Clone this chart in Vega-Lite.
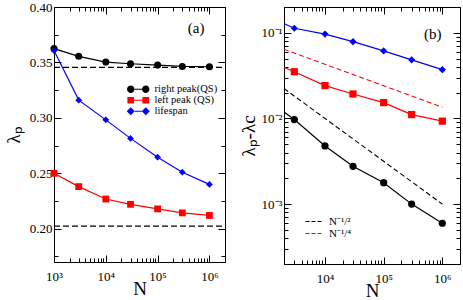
{
  "$schema": "https://vega.github.io/schema/vega-lite/v6.json",
  "padding": {"left": 3, "top": 0, "right": 0, "bottom": 0},
  "background": "white",
  "config": {
    "font": "Liberation Serif",
    "view": {"stroke": "#000", "strokeWidth": 1},
    "axis": {"grid": false, "domain": false, "tickColor": "#000", "labelColor": "#000", "titleColor": "#000", "labelFont": "Liberation Serif", "titleFont": "Liberation Serif", "labelFontSize": 13, "titleFontWeight": "normal", "tickWidth": 1, "labelFlush": false, "labelOverlap": false},
    "legend": {"labelFont": "Liberation Serif", "labelColor": "#000", "padding": 0}
  },
  "datasets": {
    "a": [
      {"N": 1000, "lam": 0.3625, "series": "right peak(QS)"},
      {"N": 3000, "lam": 0.3555, "series": "right peak(QS)"},
      {"N": 10000, "lam": 0.3503, "series": "right peak(QS)"},
      {"N": 30000, "lam": 0.3488, "series": "right peak(QS)"},
      {"N": 100000, "lam": 0.3476, "series": "right peak(QS)"},
      {"N": 300000, "lam": 0.3464, "series": "right peak(QS)"},
      {"N": 1000000, "lam": 0.3461, "series": "right peak(QS)"},
      {"N": 1000, "lam": 0.2500, "series": "left peak (QS)"},
      {"N": 3000, "lam": 0.2380, "series": "left peak (QS)"},
      {"N": 10000, "lam": 0.2268, "series": "left peak (QS)"},
      {"N": 30000, "lam": 0.2220, "series": "left peak (QS)"},
      {"N": 100000, "lam": 0.2179, "series": "left peak (QS)"},
      {"N": 300000, "lam": 0.2143, "series": "left peak (QS)"},
      {"N": 1000000, "lam": 0.2120, "series": "left peak (QS)"},
      {"N": 1000, "lam": 0.3607, "series": "lifespan"},
      {"N": 3000, "lam": 0.3160, "series": "lifespan"},
      {"N": 10000, "lam": 0.2982, "series": "lifespan"},
      {"N": 30000, "lam": 0.2815, "series": "lifespan"},
      {"N": 100000, "lam": 0.2645, "series": "lifespan"},
      {"N": 300000, "lam": 0.2510, "series": "lifespan"},
      {"N": 1000000, "lam": 0.2400, "series": "lifespan"}
    ],
    "aref": [
      {"N": 1000, "lam": 0.3455, "g": "upper"},
      {"N": 2000000, "lam": 0.3455, "g": "upper"},
      {"N": 1000, "lam": 0.2023, "g": "lower"},
      {"N": 2000000, "lam": 0.2023, "g": "lower"}
    ],
    "b": [
      {"N": 1000, "d": 0.0170, "series": "right peak(QS)"},
      {"N": 3000, "d": 0.0097, "series": "right peak(QS)"},
      {"N": 10000, "d": 0.00478, "series": "right peak(QS)"},
      {"N": 30000, "d": 0.00276, "series": "right peak(QS)"},
      {"N": 100000, "d": 0.00178, "series": "right peak(QS)"},
      {"N": 300000, "d": 0.0010, "series": "right peak(QS)"},
      {"N": 1000000, "d": 0.000598, "series": "right peak(QS)"},
      {"N": 1000, "d": 0.048, "series": "left peak (QS)"},
      {"N": 3000, "d": 0.0351, "series": "left peak (QS)"},
      {"N": 10000, "d": 0.0242, "series": "left peak (QS)"},
      {"N": 30000, "d": 0.0193, "series": "left peak (QS)"},
      {"N": 100000, "d": 0.0153, "series": "left peak (QS)"},
      {"N": 300000, "d": 0.0111, "series": "left peak (QS)"},
      {"N": 1000000, "d": 0.0093, "series": "left peak (QS)"},
      {"N": 1000, "d": 0.159, "series": "lifespan"},
      {"N": 3000, "d": 0.113, "series": "lifespan"},
      {"N": 10000, "d": 0.0966, "series": "lifespan"},
      {"N": 30000, "d": 0.0787, "series": "lifespan"},
      {"N": 100000, "d": 0.0614, "series": "lifespan"},
      {"N": 300000, "d": 0.0483, "series": "lifespan"},
      {"N": 1000000, "d": 0.0371, "series": "lifespan"}
    ],
    "bref": [
      {"N": 2000, "d": 0.02236, "law": "N⁻¹/²"},
      {"N": 1000000, "d": 0.001, "law": "N⁻¹/²"},
      {"N": 2000, "d": 0.0643, "law": "N⁻¹/⁴"},
      {"N": 1000000, "d": 0.01355, "law": "N⁻¹/⁴"}
    ]
  },
  "spacing": 10,
  "resolve": {"scale": {"color": "independent", "shape": "independent", "x": "independent", "y": "independent"}, "legend": {"color": "independent", "shape": "independent"}},
  "hconcat": [
    {
      "width": 171,
      "height": 255,
      "title": {"text": "(a)", "anchor": "end", "offset": -35, "dx": -23, "fontSize": 15, "fontWeight": "normal", "font": "Liberation Serif", "color": "#000"},
      "resolve": {"axis": {"x": "independent", "y": "independent"}},
      "layer": [
        {
          "data": {"name": "aref"},
          "mark": {"type": "line", "color": "#000", "strokeWidth": 1.2, "strokeDash": [6, 3]},
          "encoding": {
            "x": {"field": "N", "type": "quantitative", "scale": {"type": "log", "domain": [1000, 2000000], "nice": false},
              "axis": {"orient": "bottom", "values": [1000, 10000, 100000, 1000000], "labelExpr": "datum.value < 5000 ? '10³' : datum.value < 50000 ? '10⁴' : datum.value < 500000 ? '10⁵' : '10⁶'", "tickSize": -7, "labelPadding": 15, "title": "N", "titleFontSize": 19, "titlePadding": -4}},
            "y": {"field": "lam", "type": "quantitative", "scale": {"domain": [0.17, 0.4], "nice": false, "zero": false},
              "axis": {"orient": "left", "values": [0.2, 0.25, 0.3, 0.35, 0.4], "format": ".2f", "tickSize": -7, "labelPadding": 9, "title": "λₚ", "titleFontSize": 19, "titlePadding": 6}},
            "detail": {"field": "g"}
          }
        },
        {
          "data": {"name": "a"},
          "transform": [{"filter": "datum.series == 'right peak(QS)'"}],
          "mark": {"type": "line", "strokeWidth": 1.2, "color": "#000000"},
          "encoding": {
            "x": {"field": "N", "type": "quantitative", "axis": {"orient": "top", "values": [1000, 10000, 100000, 1000000], "labels": false, "tickSize": -7, "title": null}},
            "y": {"field": "lam", "type": "quantitative", "axis": {"orient": "right", "values": [0.2, 0.25, 0.3, 0.35, 0.4], "labels": false, "tickSize": -7, "title": null}}
          }
        },
        {
          "data": {"name": "a"},
          "transform": [{"filter": "datum.series == 'left peak (QS)'"}],
          "mark": {"type": "line", "strokeWidth": 1.2, "color": "#ff0000"},
          "encoding": {
            "x": {"field": "N", "type": "quantitative", "axis": null},
            "y": {"field": "lam", "type": "quantitative", "axis": null}
          }
        },
        {
          "data": {"name": "a"},
          "transform": [{"filter": "datum.series == 'lifespan'"}],
          "mark": {"type": "line", "strokeWidth": 1.2, "color": "#0000ff"},
          "encoding": {
            "x": {"field": "N", "type": "quantitative", "axis": null},
            "y": {"field": "lam", "type": "quantitative", "axis": null}
          }
        },
        {
          "data": {"name": "a"},
          "transform": [{"filter": "datum.series == 'right peak(QS)'"}],
          "mark": {"type": "point", "shape": "circle", "filled": true, "opacity": 1, "size": 50, "color": "#000000"},
          "encoding": {
            "x": {"field": "N", "type": "quantitative", "axis": {"orient": "bottom", "values": [2000, 3000, 4000, 5000, 6000, 7000, 8000, 9000, 20000, 30000, 40000, 50000, 60000, 70000, 80000, 90000, 200000, 300000, 400000, 500000, 600000, 700000, 800000, 900000, 2000000], "labels": false, "tickSize": -4, "title": null}},
            "y": {"field": "lam", "type": "quantitative", "axis": {"orient": "left", "values": [0.175, 0.225, 0.275, 0.325, 0.375], "labels": false, "tickSize": -4, "title": null}}
          }
        },
        {
          "data": {"name": "a"},
          "transform": [{"filter": "datum.series == 'left peak (QS)'"}],
          "mark": {"type": "point", "shape": "square", "filled": true, "opacity": 1, "size": 46, "color": "#ff0000"},
          "encoding": {
            "x": {"field": "N", "type": "quantitative", "axis": null},
            "y": {"field": "lam", "type": "quantitative", "axis": null}
          }
        },
        {
          "data": {"name": "a"},
          "transform": [{"filter": "datum.series == 'lifespan'"}],
          "mark": {"type": "point", "shape": "diamond", "filled": true, "opacity": 1, "size": 46, "color": "#0000ff"},
          "encoding": {
            "x": {"field": "N", "type": "quantitative", "axis": null},
            "y": {"field": "lam", "type": "quantitative", "axis": null}
          }
        },
        {
          "data": {"name": "a"},
          "mark": {"type": "point", "filled": true, "opacity": 0},
          "encoding": {
            "x": {"field": "N", "type": "quantitative", "axis": {"orient": "top", "values": [2000, 3000, 4000, 5000, 6000, 7000, 8000, 9000, 20000, 30000, 40000, 50000, 60000, 70000, 80000, 90000, 200000, 300000, 400000, 500000, 600000, 700000, 800000, 900000, 2000000], "labels": false, "tickSize": -4, "title": null}},
            "y": {"field": "lam", "type": "quantitative", "axis": {"orient": "right", "values": [0.175, 0.225, 0.275, 0.325, 0.375], "labels": false, "tickSize": -4, "title": null}},
            "color": {"field": "series", "type": "nominal", "scale": {"domain": ["right peak(QS)", "left peak (QS)", "lifespan"], "range": ["#000000", "#ff0000", "#0000ff"]},
              "legend": {"orient": "none", "legendX": 79, "legendY": 77, "title": null, "labelFontSize": 10.5, "symbolSize": 81, "labelOffset": 11, "rowPadding": 0, "symbolOpacity": 1, "symbolStrokeWidth": 0}},
            "shape": {"field": "series", "type": "nominal", "scale": {"domain": ["right peak(QS)", "left peak (QS)", "lifespan"], "range": [
              "M-0.85,-0.13 L0.85,-0.13 L0.85,0.13 L-0.85,0.13 Z M-2.49,0 A0.82,0.82 0 1,1 -0.85,0 A0.82,0.82 0 1,1 -2.49,0 Z M0.85,0 A0.82,0.82 0 1,1 2.49,0 A0.82,0.82 0 1,1 0.85,0 Z",
              "M-0.93,-0.13 L0.93,-0.13 L0.93,0.13 L-0.93,0.13 Z M-2.41,-0.74 L-0.93,-0.74 L-0.93,0.74 L-2.41,0.74 Z M0.93,-0.74 L2.41,-0.74 L2.41,0.74 L0.93,0.74 Z",
              "M-0.78,-0.13 L0.78,-0.13 L0.78,0.13 L-0.78,0.13 Z M-2.56,0 L-1.67,-0.89 L-0.78,0 L-1.67,0.89 Z M0.78,0 L1.67,-0.89 L2.56,0 L1.67,0.89 Z"]},
              "legend": {"orient": "none", "legendX": 79, "legendY": 77, "title": null, "labelFontSize": 10.5, "symbolSize": 81, "labelOffset": 11, "rowPadding": 0, "symbolOpacity": 1, "symbolStrokeWidth": 0}}
          }
        }
      ]
    },
    {
      "width": 176,
      "height": 257,
      "title": {"text": "(b)", "anchor": "end", "offset": -35, "dx": -19, "fontSize": 15, "fontWeight": "normal", "font": "Liberation Serif", "color": "#000"},
      "resolve": {"axis": {"x": "independent", "y": "independent"}, "scale": {"color": "independent", "shape": "independent"}},
      "layer": [
        {
          "data": {"name": "bref"},
          "mark": {"type": "line", "strokeWidth": 1.1, "strokeDash": [5, 3], "clip": true},
          "encoding": {
            "x": {"field": "N", "type": "quantitative", "scale": {"type": "log", "domain": [2000, 2000000], "nice": false},
              "axis": {"orient": "bottom", "values": [10000, 100000, 1000000], "labelExpr": "datum.value < 50000 ? '10⁴' : datum.value < 500000 ? '10⁵' : '10⁶'", "tickSize": -7, "labelPadding": 15, "title": "N", "titleFontSize": 19, "titlePadding": -4}},
            "y": {"field": "d", "type": "quantitative", "scale": {"type": "log", "domain": [0.0002, 0.2], "nice": false},
              "axis": {"orient": "left", "values": [0.001, 0.01, 0.1], "labelExpr": "datum.value > 0.05 ? '10⁻¹' : datum.value > 0.005 ? '10⁻²' : '10⁻³'", "tickSize": -7, "labelPadding": 9, "title": "λₚ-λc", "titleFontSize": 19, "titlePadding": 3}},
            "color": {"field": "law", "type": "nominal", "scale": {"domain": ["N⁻¹/²", "N⁻¹/⁴"], "range": ["#000000", "#ff0000"]},
              "legend": {"orient": "none", "legendX": 24, "legendY": 209, "title": null, "labelFontSize": 11, "symbolType": "M-2,0 L2,0", "symbolSize": 64, "symbolDash": [4, 2], "symbolStrokeWidth": 1, "labelOffset": 10, "rowPadding": 0}}
          }
        },
        {
          "data": {"name": "b"},
          "mark": {"type": "line", "strokeWidth": 1.2, "clip": true},
          "encoding": {
            "x": {"field": "N", "type": "quantitative", "axis": {"orient": "top", "values": [10000, 100000, 1000000], "labels": false, "tickSize": -7, "title": null}},
            "y": {"field": "d", "type": "quantitative", "axis": {"orient": "right", "values": [0.001, 0.01, 0.1], "labels": false, "tickSize": -7, "title": null}},
            "color": {"field": "series", "type": "nominal", "scale": {"domain": ["right peak(QS)", "left peak (QS)", "lifespan"], "range": ["#000000", "#ff0000", "#0000ff"]}, "legend": null}
          }
        },
        {
          "data": {"name": "b"},
          "mark": {"type": "point", "filled": true, "opacity": 1, "size": 52, "clip": true},
          "encoding": {
            "x": {"field": "N", "type": "quantitative", "axis": {"orient": "bottom", "values": [2000, 3000, 4000, 5000, 6000, 7000, 8000, 9000, 20000, 30000, 40000, 50000, 60000, 70000, 80000, 90000, 200000, 300000, 400000, 500000, 600000, 700000, 800000, 900000, 2000000], "labels": false, "tickSize": -4, "title": null}},
            "y": {"field": "d", "type": "quantitative", "axis": {"orient": "left", "values": [0.0002, 0.0003, 0.0004, 0.0005, 0.0006, 0.0007, 0.0008, 0.0009, 0.002, 0.003, 0.004, 0.005, 0.006, 0.007, 0.008, 0.009, 0.02, 0.03, 0.04, 0.05, 0.06, 0.07, 0.08, 0.09, 0.2], "labels": false, "tickSize": -4, "title": null}},
            "color": {"field": "series", "type": "nominal", "scale": {"domain": ["right peak(QS)", "left peak (QS)", "lifespan"], "range": ["#000000", "#ff0000", "#0000ff"]}, "legend": null},
            "shape": {"field": "series", "type": "nominal", "scale": {"domain": ["right peak(QS)", "left peak (QS)", "lifespan"], "range": ["circle", "square", "diamond"]}, "legend": null}
          }
        },
        {
          "data": {"name": "bref"},
          "mark": {"type": "point", "opacity": 0},
          "encoding": {
            "x": {"field": "N", "type": "quantitative", "axis": {"orient": "top", "values": [2000, 3000, 4000, 5000, 6000, 7000, 8000, 9000, 20000, 30000, 40000, 50000, 60000, 70000, 80000, 90000, 200000, 300000, 400000, 500000, 600000, 700000, 800000, 900000, 2000000], "labels": false, "tickSize": -4, "title": null}},
            "y": {"field": "d", "type": "quantitative", "axis": {"orient": "right", "values": [0.0002, 0.0003, 0.0004, 0.0005, 0.0006, 0.0007, 0.0008, 0.0009, 0.002, 0.003, 0.004, 0.005, 0.006, 0.007, 0.008, 0.009, 0.02, 0.03, 0.04, 0.05, 0.06, 0.07, 0.08, 0.09, 0.2], "labels": false, "tickSize": -4, "title": null}}
          }
        }
      ]
    }
  ]
}
